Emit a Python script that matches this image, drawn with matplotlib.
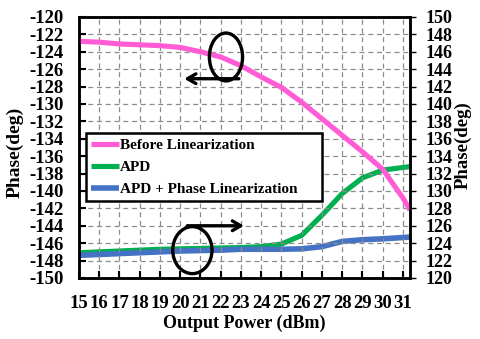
import matplotlib
matplotlib.use("Agg")
import matplotlib.pyplot as plt
from matplotlib.patches import Ellipse

plt.rcParams['font.family'] = ['Liberation Serif', 'DejaVu Serif']
plt.rcParams['font.weight'] = 'bold'
plt.rcParams['axes.unicode_minus'] = False

# output power sweep (dBm)
pout = [15, 16, 17, 18, 19, 20, 21, 22, 23, 24, 25, 26, 27, 28, 29, 30, 31, 31.35]

# phase before linearization (left axis)
ph_before = [-122.8, -122.9, -123.1, -123.2, -123.3, -123.5, -124.0, -124.6,
             -125.6, -126.9, -128.1, -129.8, -131.7, -133.6, -135.5, -137.5,
             -140.8, -142.2]
# phase with APD / APD + phase linearization (right axis)
ph_apd = [122.9, 123.0, 123.1, 123.2, 123.3, 123.35, 123.4, 123.45, 123.5,
          123.6, 123.9, 124.9, 127.2, 129.7, 131.5, 132.4, 132.7, 132.8]
ph_apd_lin = [122.6, 122.7, 122.8, 122.9, 123.0, 123.1, 123.15, 123.2, 123.3,
              123.3, 123.3, 123.35, 123.6, 124.2, 124.4, 124.5, 124.65, 124.7]

xticks = list(range(15, 32))
left_ticks = list(range(-150, -119, 2))
right_ticks = list(range(120, 151, 2))

fig = plt.figure(figsize=(4.81, 3.39), dpi=100)
ax = fig.add_axes([0.1642, 0.18, 0.6882, 0.77])
ax2 = ax.twinx()
ax.set_zorder(ax2.get_zorder() + 1)
ax.patch.set_visible(False)

l2, = ax2.plot(pout, ph_apd, color='#00B050', lw=3.7, solid_capstyle='butt', label='APD')
l3, = ax2.plot(pout, ph_apd_lin, color='#4472C4', lw=4.0, solid_capstyle='butt',
               label='APD + Phase Linearization')
l1, = ax.plot(pout, ph_before, color='#FF5CD6', lw=3.7, solid_capstyle='butt',
              label='Before Linearization')

ax.set_xlim(15, 31.35)
ax.set_ylim(-150, -120)
ax2.set_ylim(120, 150)
ax.set_xticks(xticks)
ax.set_yticks(left_ticks)
ax2.set_yticks(right_ticks)

ax.grid(True, color='#8c8c8c', ls=(0, (4, 3)), lw=0.9)
ax.tick_params(axis='both', direction='in', length=5, width=1.5, labelsize=13.5)
ax.tick_params(axis='y', pad=11)
ax.tick_params(axis='x', pad=12)
ax2.tick_params(axis='y', direction='out', length=4, width=1.0, labelsize=13, pad=7)
for lab in ax.get_xticklabels() + ax.get_yticklabels() + ax2.get_yticklabels():
    lab.set_fontweight('bold')
for sp in ax.spines.values():
    sp.set_linewidth(1.8)
for sp in ax2.spines.values():
    sp.set_linewidth(1.8)

ax.set_xlabel('Output Power (dBm)', fontsize=13, fontweight='bold', labelpad=2)
fig.text(15 / 481, 1 - 152.5 / 339, 'Phase(deg)', rotation=90, ha='center', va='center',
         fontsize=14, fontweight='bold')
fig.text(463 / 481, 1 - 145.5 / 339, 'Phase(deg)', rotation=90, ha='center', va='center',
         fontsize=13.5, fontweight='bold')

# markers showing which axis each group belongs to
ax.add_patch(Ellipse((22.26, -124.6), 1.64, 5.5, fill=False, ec='black', lw=2.4, zorder=5))
ax.annotate('', xy=(20.2, -127.1), xytext=(22.9, -127.1),
            arrowprops=dict(arrowstyle='->,head_length=0.6,head_width=0.35',
                            lw=2.4, color='black', shrinkA=0, shrinkB=0), zorder=5)
ax.add_patch(Ellipse((20.6, -146.8), 1.94, 5.4, fill=False, ec='black', lw=2.4, zorder=5))
ax.annotate('', xy=(23.15, -144.0), xytext=(20.35, -144.0),
            arrowprops=dict(arrowstyle='->,head_length=0.6,head_width=0.35',
                            lw=2.4, color='black', shrinkA=0, shrinkB=0), zorder=5)

leg = ax.legend(handles=[l1, l2, l3], loc='upper left',
                bbox_to_anchor=(0.021, 0.3, 0.713, 0.256), mode='expand',
                borderaxespad=0, fancybox=False, framealpha=1, edgecolor='black',
                prop={'size': 11, 'weight': 'bold'}, handlelength=1.8,
                handletextpad=0.1, labelspacing=0.55, borderpad=0.35)
leg.get_frame().set_linewidth(1.8)
leg.set_zorder(6)

fig.savefig('out.png', dpi=100)
